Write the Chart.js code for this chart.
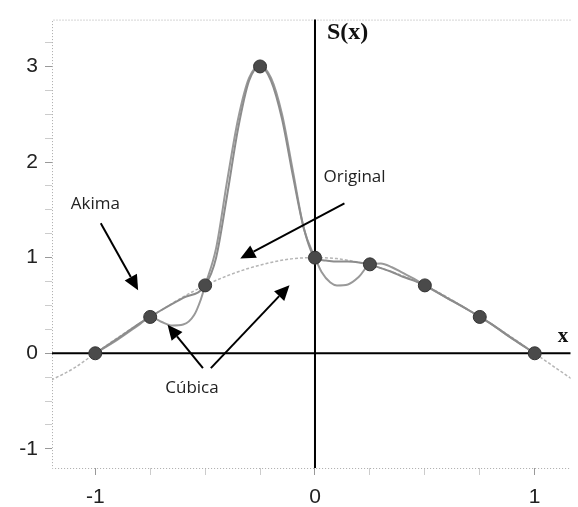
<!DOCTYPE html>
<html>
<head>
<meta charset="utf-8">
<script src="https://cdn.jsdelivr.net/npm/chart.js@4.4.0/dist/chart.umd.min.js"></script>
<style>
  html, body { margin: 0; padding: 0; background: #fff; }
</style>
</head>
<body>
<canvas id="c" width="578" height="507"></canvas>
<script>
// nodos de interpolacion
const nodeX = [-1, -0.75, -0.5, -0.25, 0, 0.25, 0.5, 0.75, 1];
const nodeY = [0, 0.38, 0.71, 3, 1, 0.93, 0.71, 0.38, 0];

// funcion original (linea discontinua)
const origX = [-1.2, -1.1, -1.0, -0.9, -0.8, -0.7, -0.6, -0.5, -0.4, -0.3, -0.2, -0.1, 0,
  0.1, 0.2, 0.3, 0.4, 0.5, 0.6, 0.7, 0.8, 0.9, 1.0, 1.1, 1.17];
const origY = [-0.28, -0.16, 0, 0.16, 0.31, 0.45, 0.59, 0.71, 0.81, 0.89, 0.95, 0.99, 1,
  0.99, 0.95, 0.89, 0.81, 0.71, 0.59, 0.45, 0.31, 0.16, 0, -0.16, -0.27];

// spline de Akima
const akimaX = [-1, -0.9, -0.8, -0.75, -0.7, -0.6, -0.5, -0.45, -0.4, -0.35, -0.3, -0.25, -0.2,
  -0.15, -0.1, -0.05, 0, 0.05, 0.1, 0.15, 0.2, 0.25, 0.3, 0.35, 0.4, 0.45, 0.5, 0.6, 0.7, 0.75, 0.8, 0.9, 1];
const akimaY = [0, 0.15, 0.31, 0.38, 0.45, 0.58, 0.71, 1.0, 1.65, 2.35, 2.85, 3, 2.85,
  2.45, 1.85, 1.3, 1, 0.97, 0.96, 0.96, 0.95, 0.93, 0.89, 0.85, 0.8, 0.76, 0.71, 0.58, 0.45, 0.38, 0.31, 0.15, 0];

// spline cubica
const cubicX = [-1, -0.9, -0.8, -0.75, -0.7, -0.65, -0.6, -0.55, -0.52, -0.5, -0.45, -0.4, -0.35, -0.3,
  -0.25, -0.2, -0.15, -0.1, -0.05, 0, 0.03, 0.07, 0.1, 0.15, 0.2, 0.25, 0.3, 0.35, 0.4, 0.45, 0.5,
  0.6, 0.7, 0.75, 0.8, 0.9, 1];
const cubicY = [0, 0.14, 0.3, 0.38, 0.33, 0.29, 0.3, 0.4, 0.56, 0.71, 1.1, 1.8, 2.45, 2.88,
  3, 2.88, 2.5, 1.9, 1.3, 1, 0.85, 0.74, 0.71, 0.72, 0.8, 0.93, 0.94, 0.9, 0.84, 0.78, 0.71,
  0.58, 0.45, 0.38, 0.31, 0.15, 0];

const xTicks = [-1, -0.75, -0.5, -0.25, 0, 0.25, 0.5, 0.75, 1];
const yTicks = [-1, -0.75, -0.5, -0.25, 0, 0.25, 0.5, 0.75, 1, 1.25, 1.5, 1.75, 2, 2.25, 2.5, 2.75, 3, 3.25];

// rotulos y flechas (coordenadas en unidades de datos)
const noteText = ['Akima', 'Original', 'Cúbica'];
const noteX = [-1.0, 0.18, -0.56];
const noteY = [1.56, 1.84, -0.37];
const arrowFromX = [-0.975, 0.134, -0.51, -0.474];
const arrowFromY = [1.36, 1.567, -0.155, -0.155];
const arrowToX = [-0.805, -0.34, -0.671, -0.116];
const arrowToY = [0.66, 0.99, 0.299, 0.711];

const pts = (xs, ys) => xs.map((x, i) => ({ x, y: ys[i] }));

const tickFont = { family: 'Liberation Sans Narrow, Liberation Sans, Arial', size: 21 };

const overlay = {
  id: 'overlay',
  beforeDatasetsDraw(chart) {
    const { ctx, chartArea: a, scales: { x, y } } = chart;
    ctx.save();
    // marco punteado
    ctx.strokeStyle = '#aaa';
    ctx.lineWidth = 1;
    ctx.setLineDash([1, 2]);
    ctx.beginPath();
    ctx.moveTo(a.right, a.top + 0.5); ctx.lineTo(a.left + 0.5, a.top + 0.5);
    ctx.lineTo(a.left + 0.5, a.bottom + 0.5); ctx.lineTo(a.right, a.bottom + 0.5);
    ctx.stroke();
    ctx.setLineDash([]);
    // ejes
    ctx.strokeStyle = '#000';
    ctx.lineWidth = 2;
    const x0 = x.getPixelForValue(0), y0 = y.getPixelForValue(0);
    ctx.beginPath();
    ctx.moveTo(a.left, y0); ctx.lineTo(a.right, y0);
    ctx.moveTo(x0, a.top); ctx.lineTo(x0, a.bottom);
    ctx.stroke();
    ctx.restore();
  },
  afterDatasetsDraw(chart) {
    const { ctx, scales: { x, y } } = chart;
    ctx.save();
    ctx.strokeStyle = '#000';
    ctx.fillStyle = '#000';
    ctx.lineWidth = 2;
    for (let i = 0; i < arrowFromX.length; i++) {
      const x1 = x.getPixelForValue(arrowFromX[i]), y1 = y.getPixelForValue(arrowFromY[i]);
      const x2 = x.getPixelForValue(arrowToX[i]), y2 = y.getPixelForValue(arrowToY[i]);
      const ang = Math.atan2(y2 - y1, x2 - x1);
      const len = 15, half = 7;
      const bx = x2 - len * Math.cos(ang), by = y2 - len * Math.sin(ang);
      ctx.beginPath();
      ctx.moveTo(x1, y1); ctx.lineTo(bx, by);
      ctx.stroke();
      ctx.beginPath();
      ctx.moveTo(x2, y2);
      ctx.lineTo(bx + half * Math.sin(ang), by - half * Math.cos(ang));
      ctx.lineTo(bx - half * Math.sin(ang), by + half * Math.cos(ang));
      ctx.closePath();
      ctx.fill();
    }
    ctx.fillStyle = '#222';
    ctx.font = '17px "Open Sans"';
    ctx.textAlign = 'center';
    ctx.textBaseline = 'middle';
    noteText.forEach((t, i) => ctx.fillText(t, x.getPixelForValue(noteX[i]), y.getPixelForValue(noteY[i])));
    // nombres de los ejes
    ctx.fillStyle = '#111';
    ctx.font = 'bold 24px "Liberation Serif"';
    ctx.textAlign = 'left';
    ctx.fillText('S(x)', x.getPixelForValue(0) + 12, y.getPixelForValue(3.35));
    ctx.font = 'bold 21px "Liberation Serif"';
    ctx.fillText('x', x.getPixelForValue(1.105), y.getPixelForValue(0.17));
    ctx.restore();
  }
};

new Chart(document.getElementById('c'), {
  type: 'scatter',
  data: {
    datasets: [
      {
        label: 'Nodos',
        data: pts(nodeX, nodeY),
        backgroundColor: '#4a4a4a',
        borderColor: '#333',
        borderWidth: 1,
        pointRadius: 6.5,
        showLine: false,
      },
      {
        label: 'Akima',
        data: pts(akimaX, akimaY),
        showLine: true,
        borderColor: '#8c8c8c',
        borderWidth: 2,
        pointRadius: 0,
        cubicInterpolationMode: 'monotone',
      },
      {
        label: 'Cúbica',
        data: pts(cubicX, cubicY),
        showLine: true,
        borderColor: '#999',
        borderWidth: 2,
        pointRadius: 0,
        cubicInterpolationMode: 'monotone',
      },
      {
        label: 'Original',
        data: pts(origX, origY),
        showLine: true,
        borderColor: '#b5b5b5',
        borderWidth: 1.5,
        borderDash: [3, 2],
        pointRadius: 0,
        cubicInterpolationMode: 'monotone',
      },
    ]
  },
  options: {
    responsive: false,
    animation: false,
    layout: { padding: { top: 10, left: 0, right: 0, bottom: 0 } },
    plugins: { legend: { display: false }, tooltip: { enabled: false } },
    scales: {
      x: {
        type: 'linear',
        min: -1.197,
        max: 1.163,
        afterBuildTicks: s => { s.ticks = xTicks.map(v => ({ value: v })); },
        afterFit: s => { s.height = 39; },
        border: { display: false },
        grid: {
          drawOnChartArea: false,
          tickLength: 7,
          tickColor: c => Number.isInteger(c.tick.value) ? '#999' : '#ccc',
        },
        ticks: {
          autoSkip: false,
          maxRotation: 0,
          padding: 10,
          color: '#222',
          font: tickFont,
          callback: v => Number.isInteger(v) ? String(v) : '',
        }
      },
      y: {
        type: 'linear',
        min: -1.2,
        max: 3.49,
        afterBuildTicks: s => { s.ticks = yTicks.map(v => ({ value: v })); },
        afterFit: s => { s.width = 52; },
        border: { display: false },
        grid: {
          drawOnChartArea: false,
          tickLength: 7,
          tickColor: c => Number.isInteger(c.tick.value) ? '#999' : '#ccc',
        },
        ticks: {
          autoSkip: false,
          padding: 7,
          color: '#222',
          font: tickFont,
          callback: v => Number.isInteger(v) ? String(v) : '',
        }
      }
    }
  },
  plugins: [overlay]
});
</script>
</body>
</html>
